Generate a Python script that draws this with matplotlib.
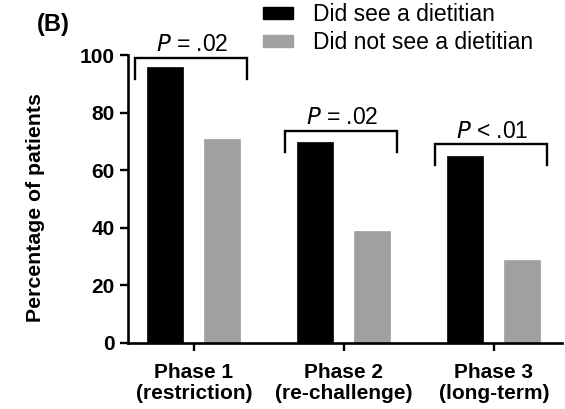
import matplotlib
matplotlib.use("Agg")
import matplotlib.pyplot as plt
import numpy as np
from matplotlib.patches import Patch

plt.rcParams['font.family'] = ['Liberation Sans', 'DejaVu Sans']

categories = ["Phase 1\n(restriction)", "Phase 2\n(re-challenge)", "Phase 3\n(long-term)"]
saw_dietitian = [96, 70, 65]
no_dietitian = [71, 39, 29]
series_labels = ["Did see a dietitian", "Did not see a dietitian"]
p_labels = ["$\\mathit{P}$ = .02", "$\\mathit{P}$ = .02", "$\\mathit{P}$ < .01"]
bracket_tops = [99.0, 73.6, 69.0]
bracket_drop = 7.3

fig = plt.figure(figsize=(5.65, 4.09), dpi=100)
ax = fig.add_axes([0.2265, 0.1614, 0.768, 0.7035])

x = np.arange(len(categories))
w = 0.24
off = 0.19
ax.bar(x - off, saw_dietitian, w, color="black", edgecolor="black", linewidth=0.5)
ax.bar(x + off, no_dietitian, w, color="#a0a0a0", edgecolor="#a0a0a0", linewidth=0.5)

for i, (top, lab) in enumerate(zip(bracket_tops, p_labels)):
    x0, x1 = i - 0.39, i + 0.355
    ax.plot([x0, x0, x1, x1], [top - bracket_drop, top, top, top - bracket_drop],
            color="black", lw=1.7, clip_on=False, solid_joinstyle="miter")
    ax.text(i - 0.01, top + 2.4, lab, ha="center", va="baseline",
            fontsize=16.5, clip_on=False)

ax.set_xlim(-0.44, 2.453)
ax.set_ylim(0, 100)
ax.set_yticks([0, 20, 40, 60, 80, 100])
ax.set_xticks(x)
ax.set_xticklabels(categories, fontsize=15, fontweight="bold", linespacing=1.1)
for t in ax.get_yticklabels():
    t.set_fontsize(15)
    t.set_fontweight("bold")
ax.tick_params(axis="both", direction="out", length=5.5, width=1.7)
ax.tick_params(axis="x", pad=9)
ax.tick_params(axis="y", pad=4)
for s in ["top", "right"]:
    ax.spines[s].set_visible(False)
for s in ["left", "bottom"]:
    ax.spines[s].set_linewidth(1.9)

ax.set_ylabel("Percentage of patients", fontsize=15.3, fontweight="bold")
ax.yaxis.set_label_coords(-0.192, 0.47)

handles = [Patch(facecolor="black", edgecolor="black"),
           Patch(facecolor="#a0a0a0", edgecolor="#a0a0a0")]
fig.legend(handles, series_labels, loc="upper left", bbox_to_anchor=(263 / 565, 0.992),
           frameon=False, fontsize=16.5, handlelength=1.31, handleheight=0.45,
           handletextpad=0.87, labelspacing=0.2, borderpad=0.0, borderaxespad=0.0)

fig.text(53 / 565, 1 - 24 / 409, "(B)", fontsize=17, fontweight="bold", ha="center", va="center")

fig.savefig("out.png", dpi=100)
